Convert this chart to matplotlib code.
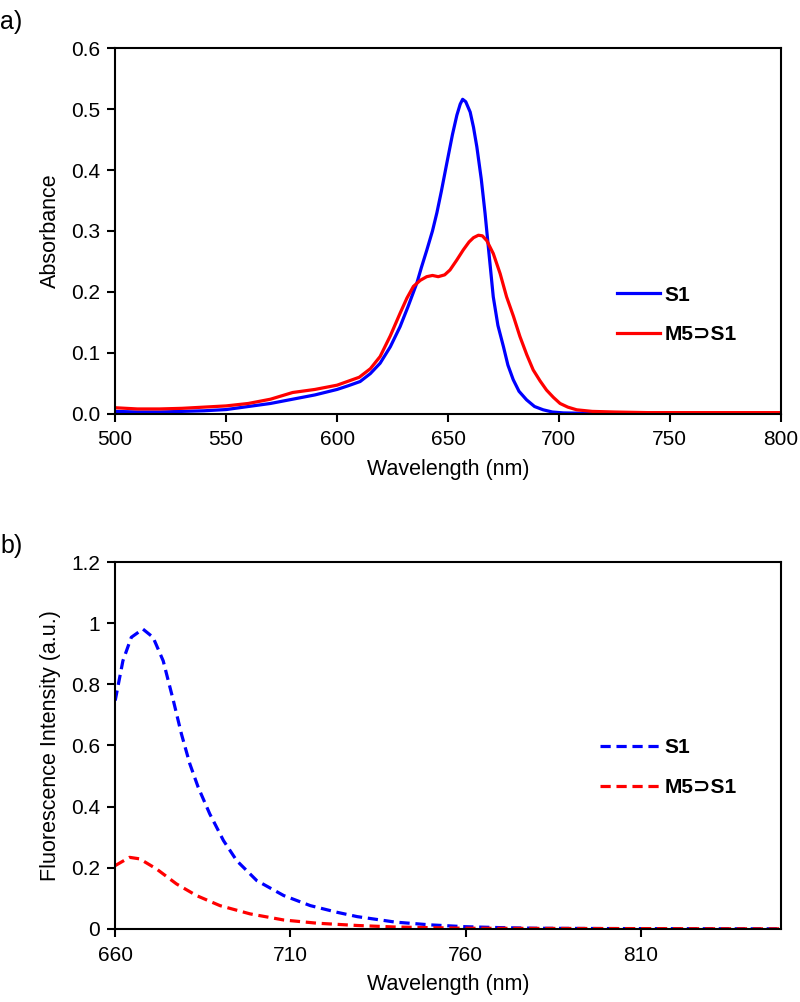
import matplotlib
matplotlib.use('Agg')
import numpy as np
import matplotlib.pyplot as plt

plt.rcParams['font.family'] = ['Liberation Sans', 'DejaVu Sans']

# absorbance, panel a
abs_wl = [500, 510, 520, 530, 540, 550, 560, 570, 580, 590, 600, 605, 610.4, 615, 619.4,
          624, 628.4, 632, 636, 638, 640.4, 643, 645, 647, 649.4, 652, 654, 655.5, 656.6,
          658, 660, 661.5, 663, 665, 666.7, 668.5, 670.4, 672.5, 675, 677, 679.4, 682,
          685.4, 689, 692.9, 697, 702, 710, 750, 800]
abs_s1 = [0.004, 0.003, 0.003, 0.004, 0.005, 0.007, 0.012, 0.017, 0.024, 0.031, 0.040,
          0.046, 0.053, 0.066, 0.083, 0.110, 0.143, 0.176, 0.215, 0.240, 0.268, 0.300,
          0.330, 0.365, 0.410, 0.458, 0.490, 0.508, 0.516, 0.512, 0.495, 0.470, 0.438,
          0.385, 0.329, 0.262, 0.192, 0.145, 0.110, 0.080, 0.056, 0.037, 0.023, 0.012,
          0.0066, 0.003, 0.0015, 0.001, 0.001, 0.001]

abs_wl2 = [500, 510, 520, 530, 540, 550, 560, 570, 580, 590, 600, 610, 615, 619.4, 624,
           628.4, 631.5, 634.4, 637.5, 640.4, 643, 645.6, 648.5, 650.9, 653.9, 656.9,
           659.5, 661.5, 663.7, 665.5, 667.5, 670.4, 673.5, 676.4, 679.5, 682.4, 685.5,
           688.4, 691.5, 694.4, 697.5, 700.5, 704, 708, 715, 725, 740, 800]
abs_m5s1 = [0.010, 0.008, 0.008, 0.009, 0.011, 0.013, 0.017, 0.024, 0.035, 0.040, 0.047,
            0.060, 0.074, 0.094, 0.128, 0.165, 0.190, 0.209, 0.219, 0.225, 0.227, 0.225,
            0.228, 0.236, 0.252, 0.269, 0.282, 0.289, 0.293, 0.292, 0.284, 0.263, 0.230,
            0.192, 0.160, 0.127, 0.097, 0.072, 0.054, 0.039, 0.027, 0.017, 0.011, 0.0066,
            0.004, 0.003, 0.002, 0.002]

# fluorescence, panel b
fl_wl = [660, 662.2, 664.6, 667.9, 670.8, 673.7, 676.6, 678.9, 681.3, 683.7, 687.0,
         690.9, 694.7, 700.4, 708.1, 715.7, 723.4, 729.1, 740, 750, 760, 770, 780, 800, 850]
fl_s1 = [0.747, 0.877, 0.954, 0.981, 0.954, 0.877, 0.747, 0.638, 0.540, 0.463, 0.376,
         0.289, 0.223, 0.158, 0.109, 0.076, 0.054, 0.040, 0.022, 0.013, 0.007, 0.004,
         0.002, 0.001, 0.0]

fl_wl2 = [660, 664.1, 667, 671.8, 677.5, 683.2, 689.9, 698.5, 708.1, 717.6, 729.1, 740,
          760, 800, 850]
fl_m5s1 = [0.207, 0.234, 0.229, 0.196, 0.147, 0.109, 0.076, 0.049, 0.029, 0.0185, 0.011,
           0.006, 0.002, 0.001, 0.0]

fig = plt.figure(figsize=(8, 10.02), dpi=100)

def style(ax):
    for s in ax.spines.values():
        s.set_linewidth(1.5)
        s.set_color('black')
    ax.tick_params(direction='out', length=6, width=1.5, labelsize=15, right=False, top=False)
    ax.tick_params(axis='x', pad=6)
    ax.tick_params(axis='y', pad=5)

ax1 = fig.add_axes([0.144, 0.587, 0.832, 0.365])
ax1.plot(abs_wl, abs_s1, color='#0000ff', lw=2.3, label='S1')
ax1.plot(abs_wl2, abs_m5s1, color='#ff0000', lw=2.3, label='M5\u2283S1')
ax1.set_xlim(500, 800)
ax1.set_ylim(0, 0.6)
ax1.set_xticks([500, 550, 600, 650, 700, 750, 800])
ax1.set_yticks(np.arange(0, 0.61, 0.1))
ax1.set_yticklabels(['%.1f' % v for v in np.arange(0, 0.61, 0.1)])
ax1.set_xlabel('Wavelength (nm)', fontsize=15.5, labelpad=7)
ax1.set_ylabel('Absorbance', fontsize=15.5, labelpad=7)
style(ax1)
ax1.legend(loc='center left', bbox_to_anchor=(0.725, 0.27), frameon=False,
           prop={'weight': 'bold', 'size': 15}, handlelength=2.1,
           handletextpad=0.2, labelspacing=1.0)

ax2 = fig.add_axes([0.144, 0.073, 0.832, 0.366])
ax2.plot(fl_wl, fl_s1, color='#0000ff', lw=2.3, ls=(0, (3.2, 1.8)), label='S1')
ax2.plot(fl_wl2, fl_m5s1, color='#ff0000', lw=2.3, ls=(0, (3.2, 1.8)), label='M5\u2283S1')
ax2.set_xlim(660, 850)
ax2.set_ylim(0, 1.2)
ax2.set_xticks([660, 710, 760, 810])
ax2.set_yticks([0, 0.2, 0.4, 0.6, 0.8, 1, 1.2])
ax2.set_yticklabels(['0', '0.2', '0.4', '0.6', '0.8', '1', '1.2'])
ax2.set_xlabel('Wavelength (nm)', fontsize=15.5, labelpad=7)
ax2.set_ylabel('Fluorescence Intensity (a.u.)', fontsize=15.5, labelpad=7)
style(ax2)
ax2.legend(loc='center left', bbox_to_anchor=(0.70, 0.44), frameon=False,
           prop={'weight': 'bold', 'size': 15}, handlelength=2.9,
           handletextpad=0.2, labelspacing=1.0)

fig.text(0.0, 0.978, 'a)', fontsize=18, va='center')
fig.text(0.0, 0.455, 'b)', fontsize=18, va='center')

plt.savefig('out.png', dpi=100)
